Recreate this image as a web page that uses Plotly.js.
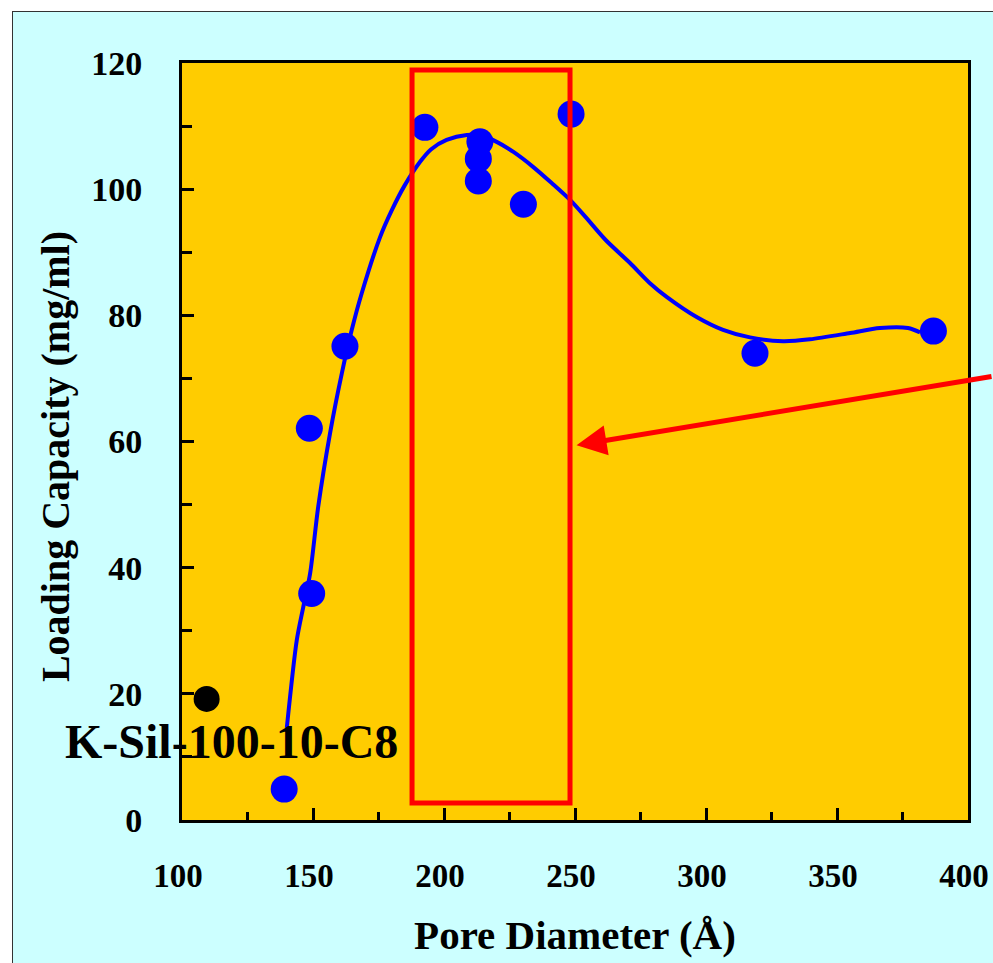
<!DOCTYPE html>
<html>
<head>
<meta charset="utf-8">
<script src="https://cdn.plot.ly/plotly-3.0.1.min.js"></script>
<style>
  html, body { margin: 0; padding: 0; background: #ffffff; }
  #chart { position: absolute; left: 12px; top: 11px; width: 980px; height: 951px;
           border-left: 1px solid #333333; border-top: 1px solid #333333; }
</style>
</head>
<body>
<div id="chart"></div>
<script>
// Measured samples (pore diameter in Å, loading capacity in mg/ml)
const poreDiameter = [139, 148.6, 149.5, 162.2, 192.7, 213.7, 213.1, 213.1, 230.3, 248.5, 318.7, 386.8];
const loadingCapacity = [4.9, 62.1, 35.9, 75.1, 109.8, 107.5, 104.8, 101.3, 97.6, 111.9, 74.0, 77.5];

// Reference material K-Sil-100-10-C8
const refDiameter = [109.4];
const refCapacity = [19.2];
const refLabel = "K-Sil-100-10-C8";

// Trend curve drawn through the data
const curveX = [140.0, 143.8, 146.3, 148.9, 152.0, 156.5, 161.0, 164.8, 168.6, 175.6, 180.0, 185.0,
                190.8, 195.0, 201.0, 208.7, 214.0, 220.1, 226.5, 234.1, 241.0, 248.1, 254.0, 261.8,
                271.0, 278.6, 285.1, 296.6, 306.5, 316.8, 329.4, 339.7, 355.0, 366.4, 377.1, 381.7];
const curveY = [14.6, 28.5, 33.8, 39.1, 49.7, 61.3, 70.8, 77.7, 83.5, 92.4, 96.6, 100.6,
                104.3, 106.3, 107.8, 108.6, 108.5, 107.5, 105.9, 103.5, 101.0, 98.3, 95.6, 91.9,
                88.3, 85.1, 82.9, 79.7, 77.7, 76.5, 75.9, 76.2, 77.2, 78.0, 78.0, 77.3];

// Highlighted optimal pore range
const rangeX = [187.8, 248.1];
const rangeY = [2.7, 118.9];
// Arrow head target
const arrowTip = [250.6, 59.4];

const xTickVals = [100, 150, 200, 250, 300, 350, 400];
const yTickVals = [0, 20, 40, 60, 80, 100, 120];

const FONT = "'Liberation Serif', 'Times New Roman', serif";

const traces = [
  {
    x: curveX, y: curveY, type: 'scatter', mode: 'lines',
    line: { color: '#0000ff', width: 4, shape: 'spline', smoothing: 0.8 },
    hoverinfo: 'skip', showlegend: false
  },
  {
    x: poreDiameter, y: loadingCapacity, type: 'scatter', mode: 'markers',
    marker: { color: '#0000ff', size: 27 }, showlegend: false, cliponaxis: false
  },
  {
    x: refDiameter, y: refCapacity, type: 'scatter', mode: 'markers',
    marker: { color: '#000000', size: 26 }, showlegend: false, cliponaxis: false
  }
];

const layout = {
  width: 980, height: 951,
  margin: { l: 169, r: 25, t: 51, b: 143 },
  paper_bgcolor: '#ccffff',
  plot_bgcolor: '#ffcc00',
  font: { family: FONT, color: '#000000' },
  showlegend: false,
  xaxis: {
    range: [100, 400], tickvals: xTickVals, ticktext: xTickVals.map(String),
    showline: true, linecolor: '#000000', linewidth: 3, mirror: true,
    showgrid: false, zeroline: false,
    ticks: 'inside', ticklen: 12, tickwidth: 3, tickcolor: '#000000',
    minor: { dtick: 25, tick0: 0, ticks: 'inside', ticklen: 8, tickwidth: 3, tickcolor: '#000000' },
    tickfont: { family: FONT, size: 33, weight: 'bold' },
    ticklabelstandoff: 24, ticklabelshift: -4,
    title: { text: '<b>Pore Diameter (Å)</b>', font: { family: FONT, size: 41 }, standoff: 28 },
    automargin: false, fixedrange: true
  },
  yaxis: {
    range: [0, 120], tickvals: yTickVals, ticktext: yTickVals.map(String),
    showline: true, linecolor: '#000000', linewidth: 3, mirror: true,
    showgrid: false, zeroline: false,
    ticks: 'inside', ticklen: 12, tickwidth: 3, tickcolor: '#000000',
    minor: { dtick: 10, tick0: 0, ticks: 'inside', ticklen: 10, tickwidth: 3, tickcolor: '#000000' },
    tickfont: { family: FONT, size: 34, weight: 'bold' },
    ticklabelstandoff: 30,
    title: { text: '<b>Loading Capacity (mg/ml)\u00a0\u00a0\u00a0</b>', font: { family: FONT, size: 40 }, standoff: 10 },
    automargin: false, fixedrange: true
  },
  shapes: [
    {
      type: 'rect', xref: 'x', yref: 'y',
      x0: rangeX[0], x1: rangeX[1], y0: rangeY[0], y1: rangeY[1],
      line: { color: '#ff0000', width: 5 }, fillcolor: 'rgba(0,0,0,0)', layer: 'above'
    }
  ],
  annotations: [
    {
      x: refDiameter[0] + 9.5, y: 12.4, xref: 'x', yref: 'y',
      text: '<b>' + refLabel + '</b>', showarrow: false,
      font: { family: FONT, size: 48, color: '#000000' },
      xanchor: 'center', yanchor: 'middle'
    },
    {
      x: arrowTip[0], y: arrowTip[1], xref: 'x', yref: 'y',
      text: '', showarrow: true, arrowhead: 2, arrowsize: 1.2, arrowwidth: 5,
      arrowcolor: '#ff0000', ax: 440, ay: -69, axref: 'pixel', ayref: 'pixel', standoff: 0
    }
  ]
};

Plotly.newPlot('chart', traces, layout, { staticPlot: true, displayModeBar: false });
</script>
</body>
</html>
